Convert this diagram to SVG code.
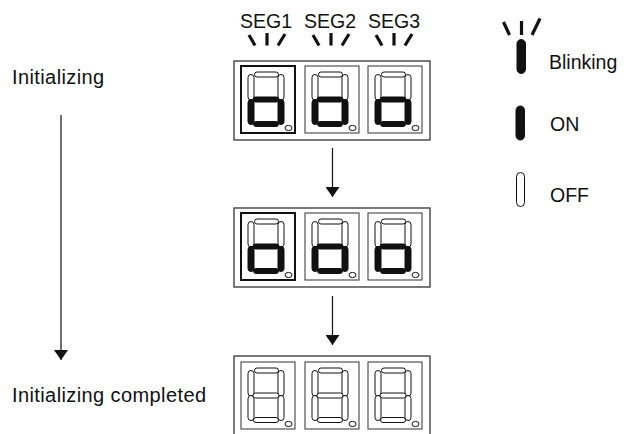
<svg xmlns="http://www.w3.org/2000/svg" xmlns:xlink="http://www.w3.org/1999/xlink" width="624" height="434" viewBox="0 0 624 434">
<style>
  text{font-family:"Liberation Sans",Arial,Helvetica,sans-serif;fill:#111}
  .lbl{font-size:20px;letter-spacing:0.4px}
  .seg{font-size:19.5px;text-anchor:middle}
  .leg{font-size:19.5px}
  .frame{fill:#fff;stroke:#333;stroke-width:1.3}
  .box{fill:none;stroke:#444;stroke-width:1.1}
  .box.sel{stroke:#111;stroke-width:2}
  .off{fill:#fff;stroke:#111;stroke-width:1}
  .on{fill:#111;stroke:#111;stroke-width:1}
  .blink{stroke:#111;stroke-width:3.2;fill:none}
  .conn{stroke:#111;stroke-width:1.2;fill:none}
</style>
<defs>
  <marker id="ah" viewBox="0 0 10 14" refX="10" refY="7" markerWidth="10" markerHeight="14" markerUnits="userSpaceOnUse" orient="auto">
    <path d="M0,0 L10,7 L0,14 Z" fill="#111"/>
  </marker>
  <g id="top-off">
    <rect class="off" x="7" y="8.5" width="6" height="25.5" rx="3"/>
    <rect class="off" x="37" y="8.5" width="6" height="25.5" rx="3"/>
    <rect class="off" x="13.5" y="6" width="24" height="5" rx="2.5"/>
  </g>
  <g id="bot-off">
    <rect class="off" x="7" y="33.5" width="6" height="25" rx="3"/>
    <rect class="off" x="37" y="33.5" width="6" height="25" rx="3"/>
    <rect class="off" x="12" y="31" width="26" height="5" rx="2.5"/>
    <rect class="off" x="12.5" y="55.5" width="25" height="5" rx="2.5"/>
  </g>
  <g id="bot-on">
    <rect class="on" x="7" y="33.5" width="6" height="25" rx="3"/>
    <rect class="on" x="37" y="33.5" width="6" height="25" rx="3"/>
    <rect class="on" x="12" y="31" width="26" height="5" rx="2.5"/>
    <rect class="on" x="12.5" y="55.5" width="25" height="5" rx="2.5"/>
  </g>
  <ellipse id="dp" class="off" cx="47.5" cy="62" rx="3.5" ry="2.6"/>
  <g id="dig-half">
    <use xlink:href="#top-off"/>
    <use xlink:href="#bot-on"/>
    <use xlink:href="#dp"/>
  </g>
  <g id="dig-off">
    <use xlink:href="#top-off"/>
    <use xlink:href="#bot-off"/>
    <use xlink:href="#dp"/>
  </g>
  <g id="marks">
    <line class="blink" x1="-19" y1="35" x2="-13" y2="45.5"/>
    <line class="blink" x1="-1" y1="33" x2="-1" y2="45.5"/>
    <line class="blink" x1="17" y1="34" x2="10" y2="45.5"/>
  </g>
</defs>

<g id="label-initializing">
  <text class="lbl" x="12" y="84">Initializing</text>
</g>
<g id="label-completed">
  <text class="lbl" x="12" y="402">Initializing completed</text>
</g>

<g id="row-initializing-blinking">
  <text class="seg" x="266" y="27.5">SEG1</text>
  <text class="seg" x="330" y="27.5">SEG2</text>
  <text class="seg" x="394" y="27.5">SEG3</text>
  <use xlink:href="#marks" x="268" y="0"/>
  <use xlink:href="#marks" x="332" y="0"/>
  <use xlink:href="#marks" x="395" y="0"/>
  <rect class="frame" x="234" y="61" width="196" height="79"/>
  <rect class="box sel" x="241" y="66" width="54" height="67"/>
  <rect class="box" x="305" y="66" width="54" height="67"/>
  <rect class="box" x="368" y="66" width="54" height="67"/>
  <use xlink:href="#dig-half" x="241" y="66"/>
  <use xlink:href="#dig-half" x="305" y="66"/>
  <use xlink:href="#dig-half" x="368" y="66"/>
</g>

<g id="row-initializing-on">
  <rect class="frame" x="234" y="208" width="196" height="79"/>
  <rect class="box sel" x="241" y="213" width="54" height="67"/>
  <rect class="box" x="305" y="213" width="54" height="67"/>
  <rect class="box" x="368" y="213" width="54" height="67"/>
  <use xlink:href="#dig-half" x="241" y="213"/>
  <use xlink:href="#dig-half" x="305" y="213"/>
  <use xlink:href="#dig-half" x="368" y="213"/>
</g>

<g id="row-completed">
  <rect class="frame" x="234" y="356" width="196" height="82"/>
  <rect class="box" x="241" y="362" width="54" height="67"/>
  <rect class="box" x="305" y="362" width="54" height="67"/>
  <rect class="box" x="368" y="362" width="54" height="67"/>
  <use xlink:href="#dig-off" x="241" y="362"/>
  <use xlink:href="#dig-off" x="305" y="362"/>
  <use xlink:href="#dig-off" x="368" y="362"/>
</g>

<g id="legend">
  <g id="legend-blinking">
    <line class="blink" x1="503.5" y1="22" x2="509.5" y2="35"/>
    <line class="blink" x1="521.5" y1="21" x2="521.5" y2="35"/>
    <line class="blink" x1="540" y1="18.5" x2="532" y2="35"/>
    <rect class="on" x="517" y="39.5" width="8.5" height="34" rx="4.25"/>
    <text class="leg" x="549" y="69">Blinking</text>
  </g>
  <g id="legend-on">
    <rect class="on" x="516" y="106" width="8.5" height="34" rx="4.25"/>
    <text class="leg" x="550" y="131">ON</text>
  </g>
  <g id="legend-off">
    <rect class="off" x="516.5" y="172.5" width="8" height="34" rx="4"/>
    <text class="leg" x="550" y="202">OFF</text>
  </g>
</g>

<g id="connectors">
  <line class="conn" x1="61" y1="115" x2="61" y2="360" marker-end="url(#ah)"/>
  <line class="conn" x1="332.5" y1="148" x2="332.5" y2="197" marker-end="url(#ah)"/>
  <line class="conn" x1="332.5" y1="296" x2="332.5" y2="345" marker-end="url(#ah)"/>
</g>
</svg>
